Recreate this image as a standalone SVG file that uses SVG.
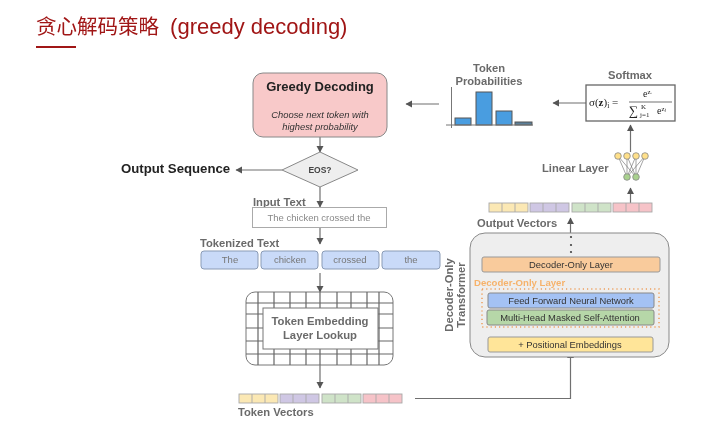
<svg xmlns="http://www.w3.org/2000/svg" width="708" height="425" viewBox="0 0 708 425">
<style>
text{font-family:"Liberation Sans",Arial,"Noto Sans CJK SC",sans-serif}
.g{fill:#6a6a6a;font-weight:700;font-size:11.200px}
.ca{stroke:#6f6f6f;stroke-width:1.200;fill:none;marker-end:url(#a)}
.m{text-anchor:middle}
.d{font-size:9.400px;fill:#333;text-anchor:middle}
.gl{stroke:#666;stroke-width:1.200;fill:none}
.ym{fill:#fbe8b4}.pu{fill:#cfc7e4}.gr{fill:#cfe3c8}.pk{fill:#f6c3c8}
.cell{stroke:#a8a8a8;stroke-width:.9}
.cl{stroke:#a8a8a8;stroke-width:.9;fill:none}
.e{stroke:#666;stroke-width:.6}
.f{font-family:"Liberation Serif","DejaVu Serif",serif;fill:#222}
</style>
<defs>
<marker id="a" markerWidth="8" markerHeight="8" refX="6" refY="3.500" orient="auto" markerUnits="userSpaceOnUse"><path d="M0 0L6.500 3.500L0 7Z" fill="#555"/></marker>
<filter id="b" x="-5%" y="-5%" width="110%" height="110%"><feGaussianBlur stdDeviation="0.45"/></filter>
<g id="vec">
<rect width="39" height="9" class="cell"/><path d="M13 0V9M26 0V9" class="cl"/>
</g>
</defs>
<rect width="708" height="425" fill="#fff"/>
<g filter="url(#b)">
<g id="title">
<text x="36" y="34" fill="#a01414" font-size="22"><tspan font-size="20.500">贪心解码策略</tspan><tspan dx="5"> (greedy decoding)</tspan></text>
<rect x="36" y="46" width="40" height="2" fill="#a01414"/>
</g>
<g id="connectors">
<path class="ca" d="M320 137V152"/>
<path class="ca" d="M282 170H236"/>
<path class="ca" d="M320 187V207"/>
<path class="ca" d="M320 227V244"/>
<path class="ca" d="M320 273V292"/>
<path class="ca" d="M320 365V388"/>
<path class="ca" d="M415 398.500H570.500V352"/>
<path class="ca" d="M570.500 337V326"/>
<path class="ca" d="M570.500 290V272"/>
<path class="ca" d="M570.500 233V218"/>
<path class="ca" d="M630.500 203V188"/>
<path class="ca" d="M630.500 152V125"/>
<path class="ca" d="M586 103H553"/>
<path class="ca" d="M439 104H406"/>
</g>
<g id="greedy-decoding">
<rect x="253" y="73" width="134" height="64" rx="10" fill="#f8c9c9" stroke="#888"/>
<text x="320" y="91" font-size="13" font-weight="700" fill="#222" class="m">Greedy Decoding</text>
<text x="320" y="118" font-size="9.400" font-style="italic" fill="#333" class="m">Choose next token with</text>
<text x="320" y="130" font-size="9.400" font-style="italic" fill="#333" class="m">highest probability</text>
</g>
<g id="output-sequence"><text x="121" y="173" font-size="13.200" font-weight="700" fill="#222">Output Sequence</text></g>
<g id="eos">
<path d="M282 170L320 152L358 170L320 187Z" fill="#eee" stroke="#888"/>
<text x="320" y="173" font-size="8.500" font-weight="700" fill="#444" class="m">EOS?</text>
</g>
<g id="input-text">
<text x="253" y="206" class="g">Input Text</text>
<rect x="252.500" y="207.500" width="134" height="20" fill="#fff" stroke="#aaa"/>
<text x="319" y="221" font-size="9.500" fill="#888" class="m">The chicken crossed the</text>
</g>
<g id="tokenized-text">
<text x="200" y="247" class="g">Tokenized Text</text>
<g fill="#c9daf8" stroke="#8a9bb5">
<rect x="201" y="251" width="57" height="18" rx="3"/>
<rect x="261" y="251" width="57" height="18" rx="3"/>
<rect x="322" y="251" width="57" height="18" rx="3"/>
<rect x="382" y="251" width="58" height="18" rx="3"/>
</g>
<g font-size="9.500" fill="#777" class="m">
<text x="230" y="263">The</text><text x="290" y="263">chicken</text><text x="350" y="263">crossed</text><text x="411" y="263">the</text>
</g>
</g>
<g id="token-embedding">
<rect x="246" y="292" width="147" height="73" rx="9" fill="#fff" stroke="#777"/>
<path class="gl" d="M258 292V365M274 292V308M290 292V308M306 292V308M320 292V308M337 292V308M351 292V308M367 292V308M379 292V365M274 349V365M290 349V365M306 349V365M320 349V365M337 349V365M351 349V365M367 349V365M246 303H393M246 314H263M246 328H263M246 341H263M378 314H393M378 328H393M378 341H393M246 354H393"/>
<rect x="263" y="308" width="115" height="41" fill="#fff" stroke="#777"/>
<text x="320" y="325" class="g m" style="font-size:11.300px">Token Embedding</text>
<text x="320" y="339" class="g m" style="font-size:11.300px">Layer Lookup</text>
</g>
<g id="token-vectors">
<use href="#vec" x="239" y="394" class="ym"/>
<use href="#vec" x="280" y="394" class="pu"/>
<use href="#vec" x="322" y="394" class="gr"/>
<use href="#vec" x="363" y="394" class="pk"/>
<text x="238" y="416" class="g">Token Vectors</text>
</g>
<g id="transformer">
<rect x="470" y="233" width="199" height="124" rx="15" fill="#eee" stroke="#888"/>
<text transform="translate(453 295) rotate(-90)" class="g m">Decoder-Only</text>
<text transform="translate(465 295) rotate(-90)" class="g m">Transformer</text>
<circle cx="571" cy="237" r="1.100" fill="#444"/><circle cx="571" cy="245" r="1.100" fill="#444"/><circle cx="571" cy="252" r="1.100" fill="#444"/>
</g>
<g id="decoder-layer-top">
<rect x="482" y="257" width="178" height="15" rx="2" fill="#f9cb9c" stroke="#999"/>
<text x="571" y="268" class="d">Decoder-Only Layer</text>
</g>
<g id="decoder-layer-detail">
<text x="474" y="286" font-size="9.600" font-weight="700" fill="#f6b26b">Decoder-Only Layer</text>
<rect x="482" y="289" width="177" height="38" fill="none" stroke="#ee9f5c" stroke-width="1.500" stroke-dasharray="1.200 3"/>
<rect x="488" y="293" width="166" height="15" rx="2" fill="#a4c2f4" stroke="#888"/>
<text x="571" y="304" class="d">Feed Forward Neural Network</text>
<rect x="487" y="310" width="167" height="15" rx="2" fill="#b6d7a8" stroke="#888"/>
<text x="570" y="321" class="d">Multi-Head Masked Self-Attention</text>
</g>
<g id="positional">
<rect x="488" y="337" width="165" height="15" rx="2" fill="#ffe599" stroke="#999"/>
<text x="570" y="348" class="d">+ Positional Embeddings</text>
</g>
<g id="output-vectors">
<use href="#vec" x="489" y="203" class="ym"/>
<use href="#vec" x="530" y="203" class="pu"/>
<use href="#vec" x="572" y="203" class="gr"/>
<use href="#vec" x="613" y="203" class="pk"/>
<text x="477" y="227" class="g">Output Vectors</text>
</g>
<g id="linear-layer">
<text x="542" y="172" class="g">Linear Layer</text>
<path class="e" d="M618 156L627 177M618 156L636 177M627 156L627 177M627 156L636 177M636 156L627 177M636 156L636 177M645 156L627 177M645 156L636 177"/>
<g fill="#ffe08a" stroke="#888" stroke-width=".8"><circle cx="618" cy="156" r="3.300"/><circle cx="627" cy="156" r="3.300"/><circle cx="636" cy="156" r="3.300"/><circle cx="645" cy="156" r="3.300"/></g>
<g fill="#a9d18e" stroke="#888" stroke-width=".8"><circle cx="627" cy="177" r="3.300"/><circle cx="636" cy="177" r="3.300"/></g>
</g>
<g id="softmax">
<text x="630" y="79" class="g m">Softmax</text>
<rect x="586" y="85" width="89" height="36" fill="#fff" stroke="#666" stroke-width="1.300"/>
<text x="589" y="106" font-size="11" class="f">σ(<tspan font-weight="700">z</tspan>)<tspan font-size="7.500" dy="2">i</tspan><tspan dy="-2"> =</tspan></text>
<text x="643" y="97" font-size="10" class="f">e<tspan font-size="7" dy="-3">zᵢ</tspan></text>
<path d="M629 102H672" stroke="#333" stroke-width=".7"/>
<text x="629" y="115" font-size="13" class="f">∑</text>
<text x="640" y="117" font-size="7" class="f">j=1</text>
<text x="641" y="109" font-size="7" class="f">K</text>
<text x="657" y="114" font-size="10" class="f">e<tspan font-size="7" dy="-3">zⱼ</tspan></text>
</g>
<g id="token-probabilities">
<text x="489" y="72" class="g m">Token</text>
<text x="489" y="85" class="g m">Probabilities</text>
<g fill="#4a9de0" stroke="#555">
<rect x="455" y="118" width="16" height="7"/>
<rect x="476" y="92" width="16" height="33"/>
<rect x="496" y="111" width="16" height="14"/>
<rect x="515" y="122" width="17" height="3" fill="#5b7f99"/>
</g>
<path d="M451.500 87V128M446 125H533" stroke="#777" fill="none"/>
</g>
</g>
</svg>
